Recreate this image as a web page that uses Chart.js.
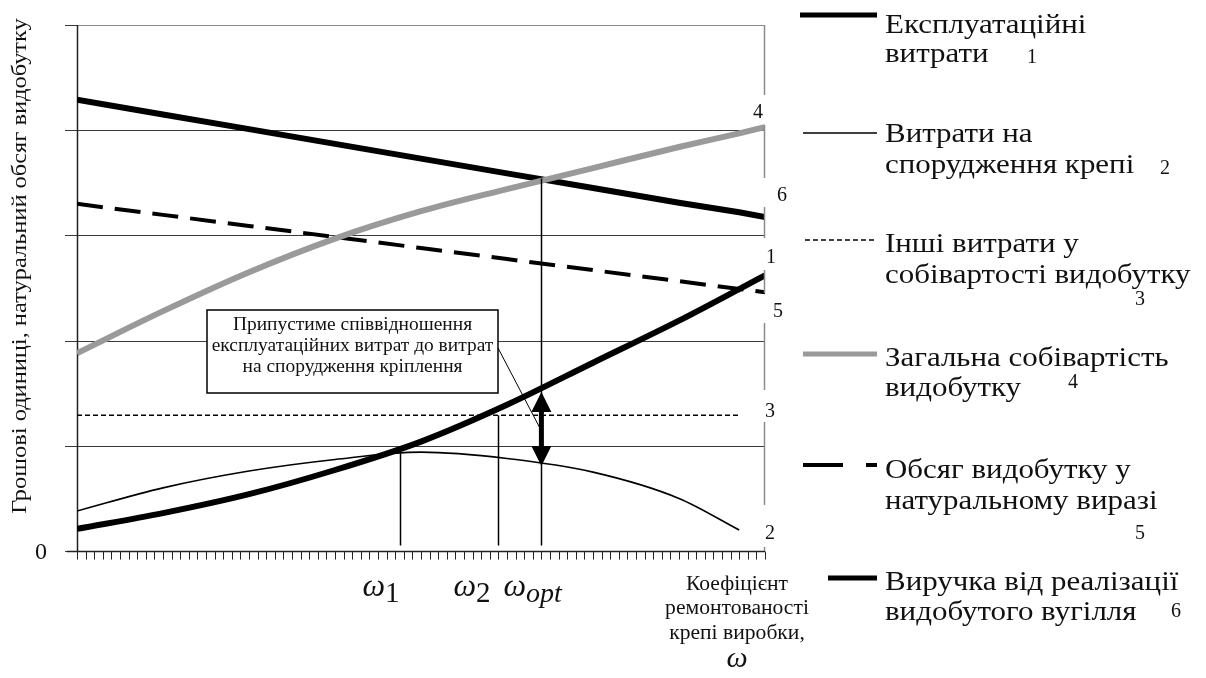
<!DOCTYPE html>
<html>
<head>
<meta charset="utf-8">
<script src="https://cdn.jsdelivr.net/npm/chart.js@4.4.1/dist/chart.umd.min.js"></script>
<style>
  html, body { margin: 0; padding: 0; background: #fff; }
  canvas { display: block; }
</style>
</head>
<body>
<canvas id="chart" width="1206" height="678"></canvas>
<script>
// Repair coefficient of the roadway support (relative units along the axis)
const omega = [0, 10, 20, 30, 40, 50, 60, 70, 77, 80];

// 1 — operating costs
const operatingCosts = [0.21, 0.36, 0.54, 0.77, 1.04, 1.39, 1.79, 2.19, 2.49, 2.62];
// 2 — support construction costs
const supportCosts = [0.38, 0.60, 0.76, 0.87, 0.94, 0.88, 0.75, 0.50, 0.20, null];
// 3 — other costs in the production cost
const otherCosts = [1.29, 1.29, 1.29, 1.29, 1.29, 1.29, 1.29, 1.29, 1.29, null];
// 4 — total production cost
const totalCost = [1.88, 2.28, 2.65, 2.97, 3.23, 3.44, 3.64, 3.84, 3.97, 4.03];
// 5 — production volume in physical terms
const outputVolume = [3.30, 3.195, 3.09, 2.985, 2.88, 2.775, 2.67, 2.565, 2.49, 2.46];
// 6 — revenue from the sale of extracted coal
const revenue = [4.29, 4.15, 4.01, 3.87, 3.73, 3.59, 3.45, 3.31, 3.22, 3.175];

const yTicks = [0, 1, 2, 3, 4, 5];
const xMin = 0, xMax = 80;

// Characteristic points on the omega axis and the curve value where each drop line starts
const omegaMarks = [
  { sub: '1',   at: 37.5, top: 0.93, shift: -37 },
  { sub: '2',   at: 49,   top: 1.29, shift: -45 },
  { sub: 'opt', at: 54,   top: 3.54, shift: -38 }
];
// Gap between operating and support costs at the optimum
const ratioArrow = { at: 54, from: 1.53, to: 0.79 };

const legendNames = [
  ['Експлуатаційні', 'витрати'],
  ['Витрати на', 'спорудження крепі'],
  ['Інші витрати у', 'собівартості видобутку'],
  ['Загальна собівартість', 'видобутку'],
  ['Обсяг видобутку у', 'натуральному виразі'],
  ['Виручка від реалізації', 'видобутого вугілля']
];
const curveNumbers = ['1', '2', '3', '4', '5', '6'];

const SERIF = '"Liberation Serif", "Times New Roman", serif';
const INK = '#111';

const styles = [
  { color: '#000', width: 6, dash: [], smooth: true },
  { color: '#000', width: 1.6, dash: [], smooth: true },
  { color: '#000', width: 1.6, dash: [5, 3], smooth: false },
  { color: '#9a9a9a', width: 6, dash: [], smooth: true },
  { color: '#000', width: 4, dash: [26, 12], smooth: false },
  { color: '#000', width: 6, dash: [], smooth: false }
];
const allSeries = [operatingCosts, supportCosts, otherCosts, totalCost, outputVolume, revenue];

const datasets = allSeries.map((vals, i) => ({
  label: legendNames[i].join(' '),
  data: omega.map((x, k) => ({ x, y: vals[k] })),
  borderColor: styles[i].color,
  borderWidth: styles[i].width,
  borderDash: styles[i].dash,
  borderCapStyle: 'butt',
  pointRadius: 0,
  fill: false,
  spanGaps: false,
  cubicInterpolationMode: styles[i].smooth ? 'monotone' : 'default',
  tension: 0
}));

function line(ctx, x1, y1, x2, y2, color, width, dash) {
  ctx.save();
  ctx.strokeStyle = color;
  ctx.lineWidth = width;
  ctx.setLineDash(dash || []);
  ctx.beginPath();
  ctx.moveTo(x1, y1);
  ctx.lineTo(x2, y2);
  ctx.stroke();
  ctx.restore();
}

// Text with an optional horizontal stretch (the lettering is set wide)
function text(ctx, str, x, y, size, align, italic, stretch) {
  const sx = stretch || 1;
  ctx.save();
  ctx.font = (italic ? 'italic ' : '') + size + 'px ' + SERIF;
  ctx.fillStyle = INK;
  ctx.textAlign = align || 'left';
  ctx.textBaseline = 'alphabetic';
  ctx.translate(x, y);
  ctx.scale(sx, 1);
  ctx.fillText(str, 0, 0);
  ctx.restore();
}

const frame = {
  id: 'frame',
  beforeDatasetsDraw(chart) {
    const { ctx, chartArea: a, scales: { x, y } } = chart;
    // horizontal grid lines and left ticks
    yTicks.forEach(v => {
      const py = Math.round(y.getPixelForValue(v)) + 0.5;
      if (v > 0 && v < 5) line(ctx, a.left, py, a.right, py, '#3a3a3a', 1);
      line(ctx, a.left - 12, py, a.left, py, '#3a3a3a', 1);
    });
    // plot border (top)
    const top = Math.round(y.getPixelForValue(5)) + 0.5;
    line(ctx, a.left, top, a.right, top, '#8a8a8a', 1.2);
    // left axis
    line(ctx, a.left + 0.5, a.top, a.left + 0.5, a.bottom, '#222', 1.5);
  },
  afterDatasetsDraw(chart) {
    const { ctx, chartArea: a, scales: { x, y } } = chart;

    // bottom axis with minor ticks
    const by = Math.round(y.getPixelForValue(0)) + 0.5;
    line(ctx, a.left - 10, by, a.right, by, '#222', 1.5);
    for (let v = xMin; v <= xMax; v++) {
      const px = Math.round(x.getPixelForValue(v)) + 0.5;
      line(ctx, px, by, px, by + 8, '#222', 1);
    }

    // right border, interrupted by curve numbers
    const numberSpots = [
      { n: '4', x: 758, y: 118 },
      { n: '6', x: 782, y: 201 },
      { n: '1', x: 771, y: 263 },
      { n: '5', x: 778, y: 317 },
      { n: '3', x: 770, y: 417 },
      { n: '2', x: 770, y: 539 }
    ];
    const gaps = [[95, 125], [178, 207], [238, 270], [293, 323], [390, 422], [505, 547]];
    let start = a.top;
    const rx = a.right - 0.5;
    gaps.forEach(g => {
      line(ctx, rx, start, rx, g[0], '#8a8a8a', 1.5);
      start = g[1];
    });
    line(ctx, rx, start, rx, a.bottom, '#8a8a8a', 1.5);
    numberSpots.forEach(s => text(ctx, s.n, s.x, s.y, 20, 'center'));

    // drop lines at omega_1, omega_2, omega_opt
    omegaMarks.forEach(m => {
      const px = Math.round(x.getPixelForValue(m.at)) + 0.5;
      line(ctx, px, y.getPixelForValue(m.top), px, by - 6, '#000', 1.5);
    });

    // annotation box with leader line
    const bx = 207, bw = 291, byTop = 310, bh = 83;
    ctx.save();
    ctx.fillStyle = '#fff';
    ctx.fillRect(bx, byTop, bw, bh);
    ctx.strokeStyle = '#000';
    ctx.lineWidth = 1.5;
    ctx.strokeRect(bx, byTop, bw, bh);
    ctx.restore();
    const boxLines = ['Припустиме співвідношення', 'експлуатаційних витрат до витрат', 'на спорудження кріплення'];
    boxLines.forEach((s, i) => text(ctx, s, bx + bw / 2, byTop + 20 + i * 21, 18, 'center', false, 1.08));
    const ax = x.getPixelForValue(ratioArrow.at);
    const ay1 = y.getPixelForValue(ratioArrow.from);
    const ay2 = y.getPixelForValue(ratioArrow.to);
    line(ctx, bx + bw, byTop + 38, ax - 1, (ay1 + ay2) / 2, '#000', 1);

    // double-headed arrow
    const head = 22, hw = 10;
    line(ctx, ax, ay1 + head - 2, ax, ay2 - head + 2, '#000', 5);
    ctx.save();
    ctx.fillStyle = '#000';
    ctx.beginPath();
    ctx.moveTo(ax, ay1 + 2);
    ctx.lineTo(ax - hw, ay1 + head);
    ctx.lineTo(ax + hw, ay1 + head);
    ctx.closePath();
    ctx.fill();
    ctx.beginPath();
    ctx.moveTo(ax, ay2 - 2);
    ctx.lineTo(ax - hw, ay2 - head);
    ctx.lineTo(ax + hw, ay2 - head);
    ctx.closePath();
    ctx.fill();
    ctx.restore();

    // zero label
    text(ctx, '0', 41, 559, 24, 'center');

    // omega labels under the axis
    omegaMarks.forEach(m => {
      const px = x.getPixelForValue(m.at);
      ctx.save();
      ctx.font = 'italic 32px ' + SERIF;
      const w = ctx.measureText('ω').width;
      ctx.restore();
      const left = px + m.shift;
      text(ctx, 'ω', left, 596, 32, 'left', true);
      text(ctx, m.sub, left + w, 602, m.sub === 'opt' ? 28 : 29, 'left', m.sub === 'opt');
    });

    // axis title for omega
    const cx = 737;
    text(ctx, 'Коефіцієнт', cx, 590, 20, 'center', false, 1.08);
    text(ctx, 'ремонтованості', cx, 614, 20, 'center', false, 1.08);
    text(ctx, 'крепі виробки,', cx, 639, 20, 'center', false, 1.08);
    text(ctx, 'ω', cx, 667, 30, 'center', true);

    // vertical axis title
    ctx.save();
    ctx.translate(26, 266);
    ctx.rotate(-Math.PI / 2);
    ctx.scale(1.11, 1);
    ctx.font = '22px ' + SERIF;
    ctx.fillStyle = INK;
    ctx.textAlign = 'center';
    ctx.fillText('Грошові одиниці, натуральний обсяг видобутку', 0, 0);
    ctx.restore();

    // legend
    const lx = 885;
    const items = [
      { y: 15,  x1: 800, base: [33, 62],   num: { x: 1032, y: 63 } },
      { y: 133, x1: 803, base: [142, 173], num: { x: 1165, y: 174 } },
      { y: 240, x1: 805, base: [252, 283], num: { x: 1140, y: 305 } },
      { y: 354, x1: 803, base: [366, 396], num: { x: 1073, y: 388 } },
      { y: 465, x1: 803, base: [478, 509], num: { x: 1140, y: 539 } },
      { y: 578, x1: 828, base: [590, 620], num: { x: 1176, y: 617 } }
    ];
    items.forEach((it, i) => {
      const st = styles[i];
      const w = i === 1 ? 1.6 : (i === 2 ? 1.6 : (i === 4 ? 4 : 5));
      const dash = i === 4 ? [40, 23] : st.dash;
      line(ctx, it.x1, it.y, 877, it.y, st.color, w, dash);
      text(ctx, legendNames[i][0], lx, it.base[0], 28, 'left', false, 1.105);
      text(ctx, legendNames[i][1], lx, it.base[1], 28, 'left', false, 1.105);
      text(ctx, curveNumbers[i], it.num.x, it.num.y, 20, 'center');
    });
  }
};

new Chart(document.getElementById('chart'), {
  type: 'line',
  data: { datasets },
  options: {
    responsive: false,
    animation: false,
    events: [],
    layout: { padding: { left: 77, top: 25, right: 441, bottom: 127 } },
    scales: {
      x: { type: 'linear', min: xMin, max: xMax, display: false },
      y: { type: 'linear', min: 0, max: 5, display: false }
    },
    plugins: { legend: { display: false }, tooltip: { enabled: false } }
  },
  plugins: [frame]
});
</script>
</body>
</html>
